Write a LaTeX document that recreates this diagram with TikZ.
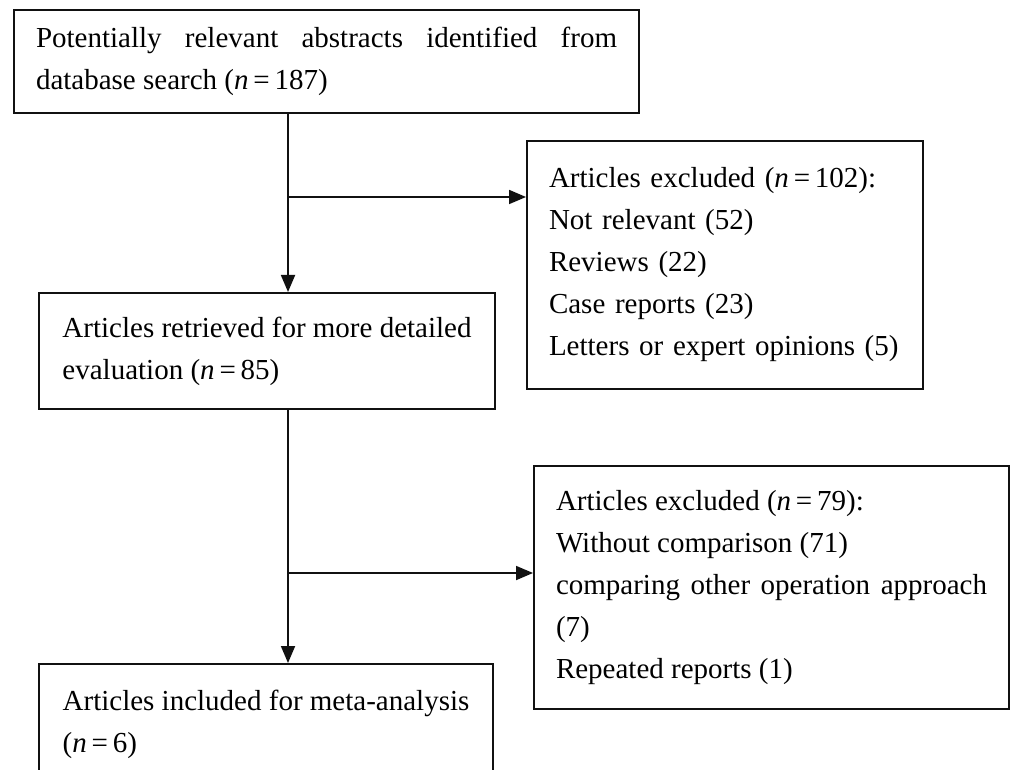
\documentclass[tikz,border=0pt]{standalone}
\usepackage{fontspec}
\setmainfont{Liberation Serif}
\usetikzlibrary{arrows.meta}
\definecolor{flowInk}{RGB}{17,17,17}

\begin{document}
\begin{tikzpicture}[x=1pt, y=-1pt,
      box/.style={draw=flowInk, line width=2pt, anchor=north west, inner xsep=22pt, inner ysep=0pt,
      align=left, font=\fontsize{29}{42}\selectfont},
      arrow/.style={-{Triangle[length=17pt, width=14pt]}, line width=1.8pt, draw=flowInk}
    ]
    \useasboundingbox (0,0) rectangle (1010,770);
    \clip (0,0) rectangle (1010,770);

    \node[box, align=justify, text width=581pt, minimum height=103pt] (abstracts) at (13,9)
    {Potentially relevant abstracts identified from database search (\textit{n}\,=\,187)};
    \node[box, text width=352pt, minimum height=248pt] (excludedA) at (526,140)
    {Articles excluded (\textit{n}\,=\,102):\\Not relevant (52)\\Reviews (22)\\Case reports (23)\\Letters or
    expert opinions (5)};
    \node[box, minimum width=456pt, minimum height=116pt] (retrieved) at (38,292)
    {Articles retrieved for more detailed\\evaluation (\textit{n}\,=\,85)};
    \node[box, align=justify, text width=431pt, minimum height=243pt] (excludedB) at (533,465)
    {Articles excluded (\textit{n}\,=\,79):\\Without comparison (71)\\comparing other operation approach
    (7)\\Repeated reports (1)};
    \node[box, minimum width=454pt, minimum height=120pt] (included) at (38,663)
    {Articles included for meta-analysis\\(\textit{n}\,=\,6)};

    \coordinate (trunk) at (288,0);
    \coordinate (forkA) at (288,197);
    \coordinate (forkB) at (288,573);

    \draw[arrow] (abstracts.south -| trunk) -- (retrieved.north -| trunk);
    \draw[arrow] (forkA) -- (forkA -| excludedA.west);
    \draw[arrow] (retrieved.south -| trunk) -- (included.north -| trunk);
    \draw[arrow] (forkB) -- (forkB -| excludedB.west);
  \end{tikzpicture}
\end{document}
